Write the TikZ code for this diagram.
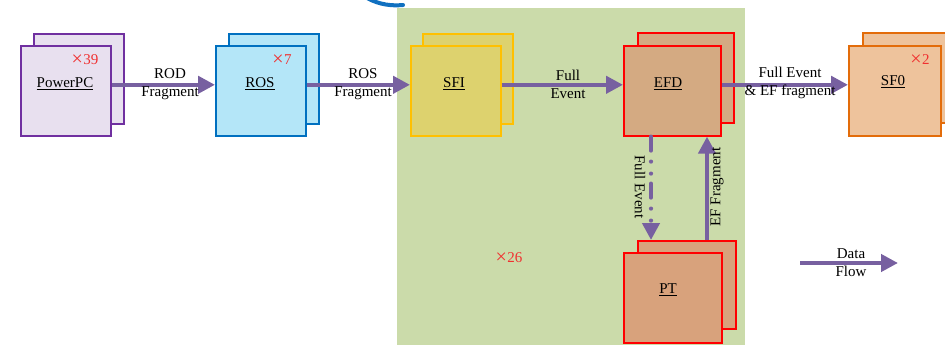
\documentclass[tikz,border=0pt]{standalone}
\usepackage{fontspec}
\setmainfont{Liberation Serif}
\usetikzlibrary{arrows.meta}

\definecolor{flowc}{HTML}{7760A0}
\definecolor{farmbg}{HTML}{CBDBAA}
\definecolor{ppcfill}{HTML}{E8E0EF}
\definecolor{ppcline}{HTML}{7030A0}
\definecolor{rosfill}{HTML}{B4E6F8}
\definecolor{rosline}{HTML}{0070C0}
\definecolor{sfifill}{HTML}{DDD26E}
\definecolor{sfiline}{HTML}{FFC000}
\definecolor{efdfill}{HTML}{D4AA82}
\definecolor{ptfill}{HTML}{D8A27C}
\definecolor{sfofill}{HTML}{EEC39C}
\definecolor{sfoline}{HTML}{E36C0A}
\definecolor{arcblue}{HTML}{1070C0}
\definecolor{cntred}{HTML}{F03030}

% a wide, thin multiplication sign for the replica counts
\newcommand{\replx}{{\fontsize{20}{20}\selectfont\raisebox{-0.5pt}{×}}\kern0.5pt}

\tikzset{
  unit/.style={draw, line width=1.6pt, inner sep=0pt, anchor=north west,
    minimum width=90pt, minimum height=90pt},
  flow/.style={draw=flowc, line width=4.2pt, -{Triangle[length=17pt,width=17pt]}},
  lbl/.style={font=\fontsize{15}{18}\selectfont, align=center, inner sep=0pt},
  cnt/.style={font=\fontsize{15}{18}\selectfont, text=cntred, inner sep=0pt},
}

\begin{document}
\begin{tikzpicture}[x=1pt,y=-1pt]
\useasboundingbox (0,0) rectangle (945,345);

% farm area and the arc above it
\fill[farmbg] (397,8) rectangle (745,346);
\draw[arcblue, line width=4pt, line cap=round] (367,-2) .. controls (380,5) and (392,6) .. (403,5);

% PowerPC
\node[unit, draw=ppcline, fill=ppcfill] (ppcB) at (33,33) {};
\node[unit, draw=ppcline, fill=ppcfill] (ppc) at (20,45) {};
\node[lbl] (ppcT) at (65,84) {\underline{PowerPC}};
\node[cnt] (ppcN) at (85,60) {\replx 39};

% ROS
\node[unit, draw=rosline, fill=rosfill] (rosB) at (228,33) {};
\node[unit, draw=rosline, fill=rosfill] (ros) at (215,45) {};
\node[lbl] (rosT) at (260,84) {\underline{ROS}};
\node[cnt] (rosN) at (282,60) {\replx 7};

% SFI
\node[unit, draw=sfiline, fill=sfifill] (sfiB) at (422,33) {};
\node[unit, draw=sfiline, fill=sfifill] (sfi) at (410,45) {};
\node[lbl] (sfiT) at (454,84) {\underline{SFI}};

% EFD
\node[unit, draw=red, fill=efdfill, minimum width=96pt] (efdB) at (637,32) {};
\node[unit, draw=red, fill=efdfill, minimum width=97pt] (efd) at (623,45) {};
\node[lbl] (efdT) at (668,84) {\underline{EFD}};

% SFO
\node[unit, draw=sfoline, fill=sfofill] (sfoB) at (862,32) {};
\node[unit, draw=sfoline, fill=sfofill, minimum width=92pt] (sfo) at (848,45) {};
\node[lbl] (sfoT) at (893,82) {\underline{SF0}};
\node[cnt] (sfoN) at (920,60) {\replx 2};

% PT
\node[unit, draw=red, fill=ptfill, minimum width=98pt, minimum height=88pt] (ptB) at (637,240) {};
\node[unit, draw=red, fill=ptfill, minimum width=98pt] (pt) at (623,252) {};
\node[lbl] (ptT) at (668,290) {\underline{PT}};

\node[cnt] (farmN) at (509,258) {\replx 26};

% horizontal data paths
\draw[flow] ([yshift=6pt]ppc.east) -- ([yshift=6pt]ros.west);
\node[lbl] (rodL) at (170,84) {ROD\\Fragment};
\draw[flow] ([yshift=6pt]ros.east) -- ([yshift=6pt]sfi.west);
\node[lbl] (rosL) at (363,84) {ROS\\Fragment};
\draw[flow] ([yshift=6pt]sfi.east) -- ([yshift=6pt]efd.west);
\node[lbl] (sfiL) at (568,84) {Full\\Event};
\draw[flow] ([yshift=6pt]efd.east) -- ([yshift=6pt]sfo.west);
\node[lbl] (efdL) at (790,83) {Full Event\\\& EF fragment};

% EFD <-> PT
\coordinate (dnx) at (651,0);
\coordinate (upx) at (707,0);
\draw[flow, line cap=round, dash pattern=on 14pt off 11pt on 0pt off 12pt on 0pt off 10pt]
  (efd.south -| dnx) -- (ptB.north -| dnx);
\node[lbl, rotate=-90] (dnL) at (640,187) {Full Event};
\draw[flow] (ptB.north -| upx) -- (efd.south -| upx);
\node[lbl, rotate=90] (upL) at (717,187) {EF Fragment};

% legend
\coordinate (lgA) at (800,263);
\coordinate (lgB) at (898,263);
\draw[flow] (lgA) -- (lgB);
\node[lbl] (lgL) at (851,263) {Data\\Flow};
\end{tikzpicture}
\end{document}
